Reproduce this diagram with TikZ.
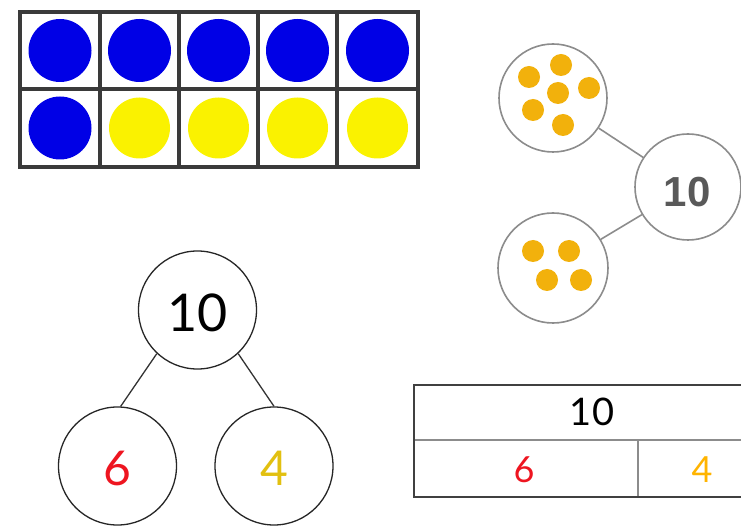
\documentclass[tikz,border=0pt]{standalone}
\usepackage{fontspec}
\setmainfont{Lato}
\newfontfamily\bondfont{Liberation Sans}
\definecolor{tfblue}{HTML}{0000E6}
\definecolor{tfyellow}{HTML}{FAF200}
\definecolor{framegray}{HTML}{3A3A3A}
\definecolor{bondgray}{HTML}{8C8C8C}
\definecolor{dotorange}{HTML}{F2B10C}
\definecolor{numred}{HTML}{EE1520}
\definecolor{numgold}{HTML}{E2C010}
\definecolor{numorange}{HTML}{FFB400}
\begin{document}
\begin{tikzpicture}[x=1pt,y=-1pt,
  tfline/.style={draw=framegray, line width=4pt},
  bluedot/.style={circle, fill=tfblue, minimum size=63pt, inner sep=0pt},
  yeldot/.style={circle, fill=tfyellow, minimum size=61pt, inner sep=0pt},
  grpcircle/.style={circle, draw=bondgray, line width=1.6pt, fill=white, minimum size=#1, inner sep=0pt},
  odot/.style={circle, fill=dotorange, minimum size=22pt, inner sep=0pt},
  bondcircle/.style={circle, draw=black!85, line width=1.3pt, fill=white, minimum size=118pt, inner sep=0pt},
  bondline/.style={draw=black!80, line width=1.3pt},
  grayline/.style={draw=bondgray, line width=1.6pt},
  barouter/.style={draw=black!75, line width=1.4pt},
  barinner/.style={draw=black!45, line width=1.2pt}]
\path[use as bounding box] (0,0) rectangle (741,526);
\clip (0,0) rectangle (741,526);
\fill[white] (0,0) rectangle (741,526);

% ten frame
\foreach \x/\n in {60/1,139.5/2,218.5/3,297.5/4,377.5/5}
  \node[bluedot] (b\n) at (\x,50.5) {};
\node[bluedot] (b6) at (60,128) {};
\foreach \x/\n in {139.5/7,218.5/8,297.5/9,377.5/10}
  \node[yeldot] (y\n) at (\x,128) {};
\draw[tfline] (20,12) rectangle (418,167);
\foreach \x in {100,179,258,337}
  \draw[tfline] (\x,12) -- (\x,167);
\draw[tfline] (20,89) -- (418,89);

% number bond with dots
\node[grpcircle=108pt] (gtop) at (553,98) {};
\node[grpcircle=106pt] (gten) at (688,187) {};
\node[grpcircle=110pt] (gbot) at (553,268) {};
\draw[grayline] (gtop) -- (gten);
\draw[grayline] (gbot) -- (gten);
\node[font=\bondfont\bfseries\fontsize{42}{42}\selectfont, text=black!65] at (687,192) {10};
\foreach \x/\y/\n in {561/65/1,529/77/2,589/88/3,558/93/4,533/110/5,563/125/6}
  \node[odot] (ot\n) at (\x,\y) {};
\foreach \x/\y/\n in {533/251/1,569/251/2,547/280/3,581/280/4}
  \node[odot] (ob\n) at (\x,\y) {};

% number bond
\node[bondcircle] (top) at (197.5,310) {};
\node[bondcircle] (left) at (117.5,466) {};
\node[bondcircle] (right) at (274,466) {};
\node[font=\fontsize{52}{52}\selectfont] at (197.5,313) {10};
\node[font=\fontsize{48}{48}\selectfont, text=numred] at (117.5,468) {6};
\node[font=\fontsize{48}{48}\selectfont, text=numgold] at (274,468) {4};
\draw[bondline] (top.227) -- (left.87);
\draw[bondline] (top.313) -- (right.north);

% bar model
\coordinate (tl) at (414,385);
\coordinate (bl) at (414,497);
\coordinate (tr) at (750,385);
\coordinate (br) at (750,497);
\coordinate (ml) at (414,440);
\coordinate (mr) at (750,440);
\coordinate (dt) at (638,440);
\coordinate (db) at (638,497);
\draw[barinner] (ml) -- (mr);
\draw[barinner] (dt) -- (db);
\draw[barouter] (tr) -- (tl) -- (bl) -- (br);
\node[font=\fontsize{38}{38}\selectfont] at (592,412) {10};
\node[font=\fontsize{36}{36}\selectfont, text=numred] at (524,470) {6};
\node[font=\fontsize{36}{36}\selectfont, text=numorange] at (702,470) {4};
\end{tikzpicture}
\end{document}
